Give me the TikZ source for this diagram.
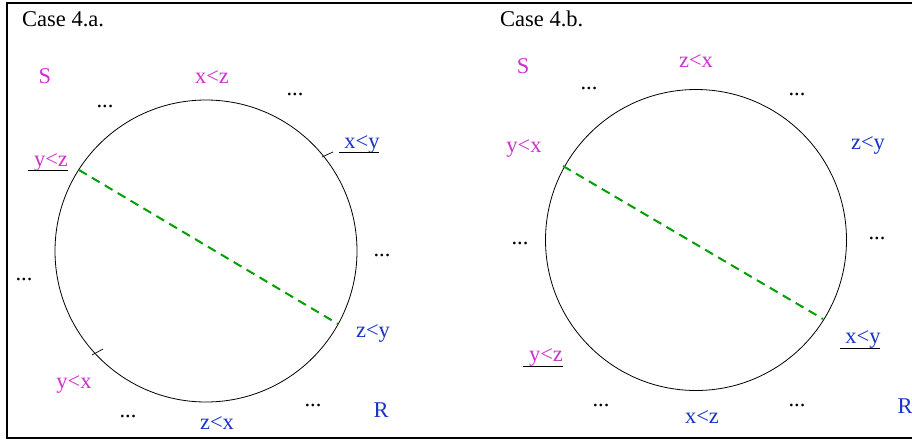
\documentclass[tikz,border=0pt]{standalone}
\usepackage{fontspec}
\setmainfont{Liberation Serif}
\definecolor{relS}{RGB}{205,50,205}
\definecolor{relR}{RGB}{25,50,200}
\definecolor{chord}{RGB}{0,160,0}
\tikzset{
    lbl/.style={inner sep=0pt, anchor=base, font=\fontsize{22.5}{26}\selectfont},
    sl/.style={lbl, text=relS},
    rl/.style={lbl, text=relR},
    gap/.style={lbl},
    chordline/.style={chord, line width=2pt, dash pattern=on 9pt off 6pt},
}
\begin{document}
\begin{tikzpicture}[x=1pt, y=-1pt]
        \useasboundingbox (0,0) rectangle (912,439);
        \clip (0,0) rectangle (912,439);
        \draw[line width=1.2pt] (7,3) rectangle (940,438);

        % case 4.a
        \node[lbl, anchor=base west] (casea) at (22,27) {Case 4.a.};
        \draw[line width=0.8pt] (206,251) circle (151);
        \coordinate (a1) at (79,170);
        \coordinate (a2) at (338,324);
        \draw[chordline] (a1) -- (a2);

        \node[sl] (aS) at (45,83) {S};
        \node[sl] (axz) at (212,83) {x<z};
        \node[gap] (ad1) at (105,107) {...};
        \node[gap] (ad2) at (295,95) {...};
        \node[rl] (axy) at (362,148) {x<y};
        \node[sl] (ayz) at (51,166) {y<z};
        \node[gap] (ad3) at (24,280) {...};
        \node[gap] (ad4) at (382,256) {...};
        \node[rl] (azy) at (373,337) {z<y};
        \node[sl] (ayx) at (74,388) {y<x};
        \node[gap] (ad5) at (128,417) {...};
        \node[rl] (azx) at (217,429) {z<x};
        \node[gap] (ad6) at (313,406) {...};
        \node[rl] (aR) at (381,417) {R};

        \draw[line width=0.7pt] ([xshift=-23pt,yshift=-4pt]axy.base) -- ([xshift=17pt,yshift=-4pt]axy.base);
        \draw[line width=0.7pt] ([xshift=-23pt,yshift=-4pt]ayz.base) -- ([xshift=17pt,yshift=-4pt]ayz.base);
        \draw[line width=0.7pt] (322,157) -- (333,152);
        \draw[line width=0.7pt] (92,355) -- (103,349);

        % case 4.b
        \node[lbl, anchor=base west] (caseb) at (500,27) {Case 4.b.};
        \draw[line width=0.8pt] (696,240) circle (150.5);
        \coordinate (b1) at (563,166);
        \coordinate (b2) at (823,319);
        \draw[chordline] (b1) -- (b2);

        \node[sl] (bS) at (523,73) {S};
        \node[sl] (bzx) at (696,67) {z<x};
        \node[gap] (bd1) at (589,89) {...};
        \node[gap] (bd2) at (797,95) {...};
        \node[sl] (byx) at (524,152) {y<x};
        \node[rl] (bzy) at (868,149) {z<y};
        \node[gap] (bd3) at (520,244) {...};
        \node[gap] (bd4) at (877,239) {...};
        \node[rl] (bxy) at (863,343) {x<y};
        \node[sl] (byz) at (546,361) {y<z};
        \node[gap] (bd5) at (601,406) {...};
        \node[rl] (bxz) at (702,423) {x<z};
        \node[gap] (bd6) at (797,406) {...};
        \node[rl] (bR) at (905,413) {R};

        \draw[line width=0.7pt] ([xshift=-23pt,yshift=-5pt]bxy.base) -- ([xshift=17pt,yshift=-5pt]bxy.base);
        \draw[line width=0.7pt] ([xshift=-23pt,yshift=-5pt]byz.base) -- ([xshift=17pt,yshift=-5pt]byz.base);
\end{tikzpicture}
\end{document}
